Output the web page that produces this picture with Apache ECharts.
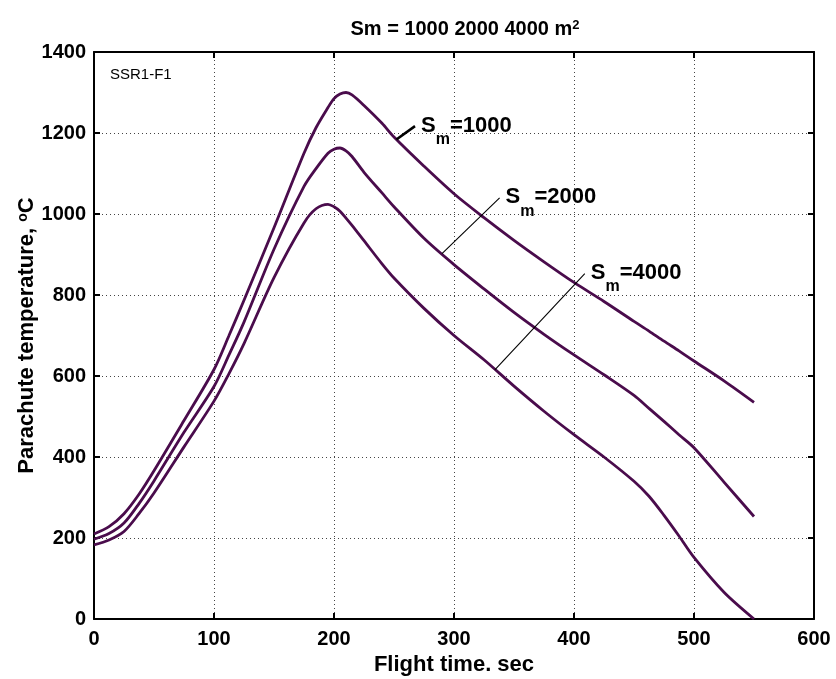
<!DOCTYPE html>
<html><head><meta charset="utf-8">
<script src="https://cdn.jsdelivr.net/npm/echarts@6/dist/echarts.min.js"></script>
<style>html,body{margin:0;padding:0;background:#fff}#c{width:836px;height:679px}</style>
</head><body><div id="c"></div>
<script>
// Flight time (s)
const timeSec = [0,12.5,25,37.5,50,75,100,112.5,125,150,175,185,195,200,205,210,215,225,240,250,275,300,325,350,375,400,425,450,462.5,475,487.5,500,525,550];
// Parachute temperature (°C) for each Sm
const tempSm1000 = [210,228,260,308,366,490,616,700,787,966,1150,1213,1263,1285,1296,1300,1294,1268,1224,1190,1118,1050,991,935,882,831,784,735,711,686,662,637,588,535];
const tempSm2000 = [197,211,237,285,341,461,574,652,733,913,1068,1112,1150,1160,1163,1156,1142,1103,1052,1018,940,875,815,757,703,652,603,552,520,488,455,423,338,253];
const tempSm4000 = [183,195,216,260,311,425,538,606,680,843,978,1013,1024,1018,1007,990,972,934,877,842,767,700,640,575,513,455,400,340,303,256,205,152,66,0];
// annotations (data units)
const annotLabels = ['1000','2000','4000'];
const leaderStart = [[252,1184],[290,902],[334,615]];
const leaderEnd = [[267.5,1217],[338,1040],[409,853]];
const xTicks = [0,100,200,300,400,500,600];
const yTicks = [0,200,400,600,800,1000,1200,1400];

const FONT = 'Liberation Sans, Arial, Helvetica, sans-serif';
const LINE_COLOR = '#4a0c4c';
const zip = (xs, ys) => xs.map((x, i) => [x, ys[i]]);

const curves = [tempSm1000, tempSm2000, tempSm4000].map((vals, i) => ({
  type: 'line', name: 'Sm=' + annotLabels[i], data: zip(timeSec, vals),
  symbol: 'none', smooth: 0.3, silent: true,
  lineStyle: { color: LINE_COLOR, width: 2.8 }, z: 3
}));
const leaders = annotLabels.map((lab, i) => ({
  type: 'line', data: [leaderStart[i], leaderEnd[i]], symbol: 'none', silent: true,
  lineStyle: { color: '#000', width: i === 0 ? 2.6 : 1.1 }, z: 4,
  endLabel: {
    show: true, distance: 6, offset: [0, 5],
    formatter: '{s|S}{sub|m}{s|=' + lab + '}',
    rich: {
      s: { fontFamily: FONT, fontWeight: 'bold', fontSize: 22, color: '#000', lineHeight: 24, verticalAlign: 'top' },
      sub: { fontFamily: FONT, fontWeight: 'bold', fontSize: 16, color: '#000', padding: [17, 0, 0, 0], verticalAlign: 'bottom' }
    }
  }
}));

const axisCommon = {
  axisLine: { show: true, onZero: false, lineStyle: { color: '#000', width: 2 } },
  axisTick: { show: true, inside: true, length: 6, lineStyle: { color: '#000', width: 2 } }
};
const chart = echarts.init(document.getElementById('c'), null, { renderer: 'canvas' });
chart.setOption({
  backgroundColor: '#fff',
  animation: false,
  title: {
    text: 'Sm = 1000 2000 4000 m{sup|2}', left: 460, top: 14, textAlign: 'center',
    textStyle: {
      fontFamily: FONT, fontWeight: 'bold', fontSize: 20, color: '#000',
      rich: { sup: { fontFamily: FONT, fontWeight: 'bold', fontSize: 13, color: '#000', verticalAlign: 'top', lineHeight: 13 } }
    }
  },
  graphic: [{
    type: 'text', left: 110, top: 67,
    style: { text: 'SSR1-F1', fontFamily: FONT, fontSize: 15, fill: '#000' }
  }],
  grid: { left: 94, right: 22, top: 52, bottom: 60, containLabel: false, outerBoundsMode: 'none' },
  xAxis: [
    Object.assign({
      type: 'value', min: xTicks[0], max: xTicks[xTicks.length - 1], interval: 100, position: 'bottom',
      name: 'Flight time. sec', nameLocation: 'middle', nameGap: 33,
      nameTextStyle: { fontFamily: FONT, fontWeight: 'bold', fontSize: 22, color: '#000' },
      axisLabel: { fontFamily: FONT, fontWeight: 'bold', fontSize: 20, color: '#000', margin: 10, formatter: v => String(v) },
      splitLine: { show: true, lineStyle: { color: '#444', width: 1, type: [1, 3] } }
    }, axisCommon),
    Object.assign({
      type: 'value', min: xTicks[0], max: xTicks[xTicks.length - 1], interval: 100, position: 'top',
      axisLabel: { show: false }, splitLine: { show: false }
    }, axisCommon)
  ],
  yAxis: [
    Object.assign({
      type: 'value', min: yTicks[0], max: yTicks[yTicks.length - 1], interval: 200, position: 'left',
      name: 'Parachute temperature, {sup|o}C', nameLocation: 'middle', nameGap: 56, nameMoveOverlap: false,
      nameTextStyle: {
        fontFamily: FONT, fontWeight: 'bold', fontSize: 22, color: '#000',
        rich: { sup: { fontFamily: FONT, fontWeight: 'bold', fontSize: 14, color: '#000', verticalAlign: 'top', lineHeight: 14 } }
      },
      axisLabel: { fontFamily: FONT, fontWeight: 'bold', fontSize: 20, color: '#000', margin: 8, formatter: v => String(v) },
      splitLine: { show: true, lineStyle: { color: '#444', width: 1, type: [1, 3] } }
    }, axisCommon),
    Object.assign({
      type: 'value', min: yTicks[0], max: yTicks[yTicks.length - 1], interval: 200, position: 'right',
      axisLabel: { show: false }, splitLine: { show: false }
    }, axisCommon)
  ],
  series: curves.concat(leaders)
});
</script></body></html>
